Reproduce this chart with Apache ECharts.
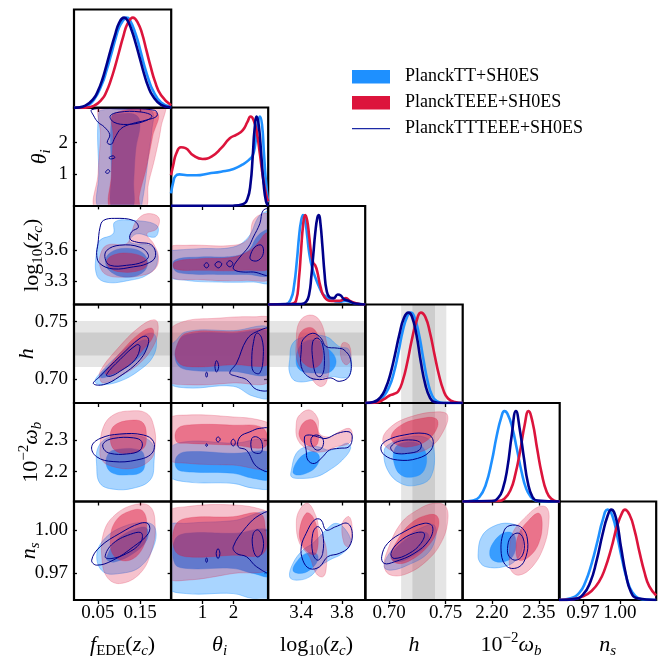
<!DOCTYPE html>
<html><head><meta charset="utf-8">
<script src="https://cdn.jsdelivr.net/npm/echarts@6/dist/echarts.min.js"></script>
<style>html,body{margin:0;padding:0;background:#fff}#c{width:664px;height:666px}</style>
</head><body><div id="c"></div>
<script>
// ---------------- parameters, ranges, ticks ----------------
const PARAMS = ['f', 'th', 'lz', 'h', 'wb', 'ns'];
const X_RANGE = {f:[-0.007,0.224], th:[-0.02,3.12], lz:[3.075,4.03], h:[0.679,0.765], wb:[2.106,2.417], ns:[0.9505,1.0296]};
const Y_RANGE = {th:[-0.02,3.12], lz:[3.075,4.03], h:[0.679,0.765], wb:[2.106,2.417], ns:[0.951,1.020]};
const X_TICKS = {f:[0.05,0.15], th:[1,2], lz:[3.4,3.8], h:[0.70,0.75], wb:[2.20,2.35], ns:[0.97,1.00]};
const X_DEC   = {f:2, th:0, lz:1, h:2, wb:2, ns:2};
const Y_TICKS = {th:[1,2], lz:[3.3,3.6], h:[0.70,0.75], wb:[2.2,2.3], ns:[0.97,1.00]};
const Y_DEC   = {th:0, lz:1, h:2, wb:1, ns:2};
const SERIES_NAMES = ['PlanckTT+SH0ES', 'PlanckTEEE+SH0ES', 'PlanckTTTEEE+SH0ES'];
const H_BAND_2SIG = [0.7105, 0.7505];
const H_BAND_1SIG = [0.7205, 0.7405];

// ---------------- 1D marginals [value, density] ----------------
const TT_1d_f = [[-0.007,0.002],[0.0,0.004],[0.02,0.02],[0.04,0.09],[0.06,0.27],[0.07,0.41],[0.08,0.57],[0.09,0.74],[0.10,0.89],[0.11,0.97],[0.117,1.0],[0.125,0.98],[0.14,0.81],[0.15,0.65],[0.16,0.47],[0.17,0.32],[0.18,0.2],[0.20,0.06],[0.224,0.01]];
const TE_1d_f = [[-0.007,0.0],[0.02,0.004],[0.04,0.024],[0.06,0.1],[0.07,0.18],[0.08,0.3],[0.09,0.45],[0.10,0.62],[0.11,0.79],[0.12,0.93],[0.133,1.0],[0.145,0.94],[0.155,0.82],[0.165,0.64],[0.175,0.46],[0.185,0.3],[0.20,0.14],[0.224,0.03]];
const TTTE_1d_f = [[-0.007,0.002],[0.0,0.004],[0.02,0.026],[0.04,0.106],[0.05,0.19],[0.06,0.31],[0.07,0.47],[0.08,0.64],[0.09,0.8],[0.10,0.94],[0.112,1.0],[0.12,0.97],[0.13,0.86],[0.14,0.71],[0.15,0.54],[0.16,0.37],[0.17,0.23],[0.18,0.135],[0.20,0.035],[0.224,0.005]];

const TT_1d_th = [[-0.02,0.14],[0.05,0.26],[0.12,0.33],[0.25,0.35],[0.5,0.34],[0.8,0.34],[1.2,0.36],[1.6,0.38],[2.0,0.41],[2.3,0.46],[2.5,0.51],[2.62,0.56],[2.7,0.68],[2.78,0.9],[2.85,0.99],[2.92,0.9],[2.98,0.6],[3.04,0.3],[3.12,0.04]];
const TE_1d_th = [[-0.02,0.34],[0.05,0.45],[0.15,0.58],[0.3,0.65],[0.45,0.64],[0.7,0.56],[1.0,0.52],[1.3,0.55],[1.6,0.64],[1.88,0.75],[2.1,0.79],[2.3,0.84],[2.45,0.93],[2.55,0.99],[2.65,0.95],[2.75,0.82],[2.85,0.58],[2.95,0.32],[3.05,0.13],[3.12,0.05]];
const TTTE_1d_th = [[-0.02,0.002],[1.0,0.003],[2.0,0.005],[2.3,0.02],[2.45,0.08],[2.55,0.25],[2.62,0.55],[2.68,0.85],[2.75,0.99],[2.82,0.88],[2.9,0.55],[2.97,0.25],[3.05,0.05],[3.12,0.0]];

const TT_1d_lz = [[3.075,0.0],[3.25,0.005],[3.3,0.06],[3.33,0.2],[3.36,0.5],[3.38,0.75],[3.40,0.92],[3.42,0.99],[3.44,0.93],[3.46,0.76],[3.48,0.57],[3.51,0.4],[3.54,0.3],[3.58,0.19],[3.62,0.11],[3.7,0.05],[3.78,0.03],[3.84,0.04],[3.9,0.02],[4.03,0.0]];
const TE_1d_lz = [[3.075,0.0],[3.3,0.005],[3.35,0.04],[3.38,0.3],[3.40,0.6],[3.42,0.88],[3.44,0.99],[3.46,0.93],[3.48,0.75],[3.50,0.56],[3.52,0.46],[3.54,0.43],[3.56,0.36],[3.59,0.2],[3.63,0.08],[3.7,0.04],[3.78,0.04],[3.84,0.07],[3.88,0.04],[3.95,0.01],[4.03,0.0]];
const TTTE_1d_lz = [[3.075,0.0],[3.4,0.005],[3.45,0.03],[3.48,0.12],[3.5,0.3],[3.52,0.55],[3.54,0.8],[3.56,0.96],[3.575,0.99],[3.59,0.9],[3.61,0.64],[3.63,0.35],[3.65,0.16],[3.68,0.08],[3.72,0.07],[3.76,0.11],[3.79,0.1],[3.82,0.06],[3.87,0.04],[3.93,0.01],[4.03,0.0]];

const TT_1d_h = [[0.679,0.0],[0.688,0.015],[0.694,0.06],[0.700,0.18],[0.704,0.33],[0.708,0.55],[0.712,0.8],[0.716,0.96],[0.719,1.0],[0.722,0.96],[0.726,0.78],[0.730,0.5],[0.734,0.24],[0.738,0.08],[0.742,0.02],[0.748,0.0],[0.765,0.0]];
const TE_1d_h = [[0.679,0.0],[0.690,0.01],[0.695,0.04],[0.700,0.08],[0.704,0.1],[0.708,0.13],[0.712,0.25],[0.716,0.45],[0.720,0.7],[0.724,0.9],[0.728,1.0],[0.732,0.95],[0.736,0.78],[0.740,0.54],[0.744,0.31],[0.748,0.14],[0.752,0.05],[0.758,0.01],[0.765,0.0]];
const TTTE_1d_h = [[0.679,0.0],[0.686,0.01],[0.692,0.06],[0.697,0.17],[0.701,0.32],[0.705,0.53],[0.709,0.76],[0.713,0.94],[0.717,1.0],[0.720,0.96],[0.724,0.76],[0.728,0.45],[0.732,0.2],[0.736,0.06],[0.740,0.01],[0.746,0.0],[0.765,0.0]];

const TT_1d_wb = [[2.106,0.0],[2.14,0.01],[2.16,0.05],[2.18,0.18],[2.2,0.45],[2.215,0.72],[2.23,0.93],[2.24,1.0],[2.25,0.97],[2.265,0.82],[2.28,0.58],[2.295,0.33],[2.31,0.14],[2.325,0.05],[2.34,0.01],[2.36,0.0],[2.417,0.0]];
const TE_1d_wb = [[2.106,0.0],[2.22,0.005],[2.24,0.03],[2.26,0.13],[2.275,0.3],[2.29,0.55],[2.305,0.85],[2.317,1.0],[2.33,0.88],[2.345,0.58],[2.36,0.3],[2.375,0.11],[2.39,0.03],[2.41,0.0],[2.417,0.0]];
const TTTE_1d_wb = [[2.106,0.0],[2.2,0.005],[2.22,0.04],[2.235,0.14],[2.25,0.38],[2.263,0.72],[2.277,1.0],[2.29,0.78],[2.303,0.47],[2.315,0.21],[2.33,0.05],[2.345,0.01],[2.417,0.0]];

const TT_1d_ns = [[0.9505,0.0],[0.96,0.02],[0.967,0.08],[0.972,0.2],[0.977,0.4],[0.982,0.66],[0.986,0.88],[0.99,1.0],[0.994,0.93],[0.998,0.7],[1.002,0.44],[1.006,0.22],[1.01,0.09],[1.015,0.02],[1.02,0.005],[1.0296,0.0]];
const TE_1d_ns = [[0.9505,0.0],[0.962,0.01],[0.97,0.04],[0.977,0.1],[0.983,0.2],[0.988,0.35],[0.993,0.57],[0.998,0.83],[1.002,0.97],[1.004,1.0],[1.008,0.94],[1.012,0.77],[1.016,0.53],[1.02,0.31],[1.024,0.15],[1.0296,0.05]];
const TTTE_1d_ns = [[0.9505,0.0],[0.963,0.01],[0.97,0.06],[0.976,0.2],[0.981,0.43],[0.986,0.73],[0.99,0.93],[0.993,1.0],[0.997,0.9],[1.001,0.58],[1.005,0.28],[1.009,0.09],[1.014,0.02],[1.0296,0.0]];

// ---------------- 2D contours: [level(2=95%,1=68%), [[x,y],...]] ----------------
const TT_th_f = [
 [2, [[0.052,2.95],[0.07,3.06],[0.13,3.07],[0.178,3.0],[0.178,2.4],[0.17,1.6],[0.163,0.8],[0.155,0.1],[0.15,-0.15],[0.055,-0.15],[0.052,1.0]]],
 [1, [[0.083,2.85],[0.1,2.92],[0.14,2.88],[0.15,2.6],[0.14,1.8],[0.135,0.8],[0.13,-0.15],[0.085,-0.15],[0.082,1.0]]]];
const TE_th_f = [
 [2, [[0.058,3.25],[0.205,3.25],[0.2,2.5],[0.185,1.5],[0.17,0.7],[0.158,-0.15],[0.046,-0.15],[0.05,1.0],[0.056,2.2]]],
 [1, [[0.088,2.92],[0.19,2.95],[0.18,2.2],[0.165,1.2],[0.148,0.3],[0.145,-0.15],[0.08,-0.15],[0.082,1.0],[0.086,2.2]]]];
const TTTE_th_f = [
 [2, [[0.035,3.05],[0.1,3.08],[0.185,3.03],[0.19,2.85],[0.165,2.72],[0.13,2.6],[0.105,2.45],[0.09,2.15],[0.082,1.95],[0.072,2.0],[0.078,2.25],[0.065,2.5],[0.05,2.65],[0.04,2.85]]],
 [2, [[0.076,1.52],[0.086,1.58],[0.09,1.52],[0.08,1.48]]],
 [2, [[0.068,1.06],[0.074,1.14],[0.078,1.08],[0.072,1.02]]],
 [1, [[0.079,2.85],[0.1,2.97],[0.15,2.98],[0.178,2.85],[0.16,2.68],[0.12,2.58],[0.088,2.65]]]];

const TT_lz_f = [
 [2, [[0.047,3.60],[0.055,3.70],[0.086,3.76],[0.090,3.875],[0.134,3.89],[0.19,3.84],[0.186,3.73],[0.142,3.76],[0.126,3.68],[0.182,3.63],[0.19,3.47],[0.166,3.36],[0.126,3.31],[0.071,3.29],[0.047,3.36]]],
 [1, [[0.068,3.50],[0.08,3.58],[0.115,3.62],[0.155,3.58],[0.168,3.48],[0.155,3.38],[0.115,3.34],[0.078,3.40]]]];
const TE_lz_f = [
 [2, [[0.055,3.55],[0.071,3.65],[0.118,3.665],[0.13,3.78],[0.142,3.89],[0.166,3.955],[0.194,3.92],[0.19,3.81],[0.166,3.76],[0.182,3.665],[0.194,3.535],[0.186,3.42],[0.158,3.36],[0.11,3.34],[0.071,3.36],[0.055,3.44]]],
 [1, [[0.071,3.50],[0.09,3.56],[0.13,3.57],[0.162,3.52],[0.166,3.45],[0.145,3.40],[0.105,3.39],[0.078,3.43]]]];
const TTTE_lz_f = [
 [2, [[0.063,3.89],[0.09,3.91],[0.134,3.89],[0.146,3.825],[0.13,3.78],[0.126,3.71],[0.142,3.68],[0.178,3.65],[0.186,3.535],[0.166,3.47],[0.134,3.44],[0.086,3.42],[0.055,3.47],[0.047,3.55],[0.05,3.665],[0.055,3.825]]],
 [1, [[0.071,3.60],[0.102,3.65],[0.15,3.63],[0.17,3.55],[0.158,3.49],[0.118,3.455],[0.079,3.455],[0.067,3.52]]]];

const TT_h_f = [
 [2, [[0.043,0.698],[0.055,0.705],[0.094,0.7196],[0.142,0.734],[0.178,0.740],[0.189,0.734],[0.181,0.7196],[0.15,0.708],[0.102,0.698],[0.055,0.695]]],
 [1, [[0.055,0.7037],[0.094,0.7168],[0.142,0.7312],[0.165,0.734],[0.169,0.7283],[0.142,0.7168],[0.094,0.7052],[0.059,0.7009]]]];
const TE_h_f = [
 [2, [[0.055,0.6994],[0.055,0.7066],[0.094,0.7254],[0.15,0.7457],[0.186,0.7515],[0.193,0.7428],[0.181,0.7283],[0.15,0.7139],[0.102,0.7023],[0.063,0.6965]]],
 [1, [[0.067,0.7052],[0.102,0.7226],[0.15,0.74],[0.178,0.7443],[0.181,0.737],[0.157,0.7254],[0.118,0.7109],[0.079,0.7037]]]];
const TTTE_h_f = [
 [2, [[0.039,0.696],[0.055,0.7023],[0.102,0.7196],[0.15,0.7356],[0.166,0.737],[0.17,0.7312],[0.15,0.7168],[0.102,0.7023],[0.063,0.695]]],
 [1, [[0.07,0.7037],[0.102,0.7168],[0.142,0.7298],[0.15,0.7283],[0.138,0.7168],[0.102,0.7066],[0.079,0.7023]]]];

const TT_wb_f = [
 [2, [[0.047,2.216],[0.051,2.279],[0.079,2.31],[0.134,2.316],[0.178,2.29],[0.183,2.226],[0.174,2.174],[0.134,2.148],[0.086,2.145],[0.055,2.163]]],
 [1, [[0.071,2.247],[0.086,2.268],[0.15,2.268],[0.161,2.237],[0.154,2.2],[0.118,2.19],[0.086,2.195],[0.071,2.216]]]];
const TE_wb_f = [
 [2, [[0.055,2.279],[0.063,2.342],[0.086,2.379],[0.126,2.392],[0.166,2.384],[0.183,2.342],[0.186,2.279],[0.174,2.237],[0.134,2.211],[0.086,2.216],[0.059,2.237]]],
 [1, [[0.079,2.31],[0.09,2.347],[0.134,2.363],[0.158,2.353],[0.165,2.31],[0.158,2.274],[0.126,2.258],[0.09,2.268]]]];
const TTTE_wb_f = [
 [2, [[0.035,2.279],[0.055,2.305],[0.102,2.319],[0.158,2.316],[0.182,2.295],[0.178,2.258],[0.142,2.237],[0.086,2.232],[0.047,2.247]]],
 [1, [[0.063,2.29],[0.086,2.305],[0.134,2.307],[0.154,2.295],[0.15,2.268],[0.118,2.256],[0.079,2.258],[0.064,2.271]]]];

const TT_ns_f = [
 [2, [[0.047,0.9813],[0.063,0.993],[0.11,1.0024],[0.166,1.0052],[0.186,1.0012],[0.182,0.9883],[0.15,0.9742],[0.102,0.9696],[0.063,0.9707]]],
 [1, [[0.071,0.9813],[0.094,0.993],[0.142,1.0012],[0.166,1.0012],[0.166,0.993],[0.134,0.9836],[0.09,0.9777],[0.072,0.9789]]]];
const TE_ns_f = [
 [2, [[0.059,0.9813],[0.063,0.9977],[0.086,1.0094],[0.134,1.0176],[0.174,1.0164],[0.186,1.0024],[0.178,0.986],[0.15,0.9696],[0.102,0.9625],[0.071,0.9672]]],
 [1, [[0.079,0.993],[0.094,1.0071],[0.134,1.0141],[0.158,1.0129],[0.166,1.0024],[0.158,0.9883],[0.126,0.9789],[0.09,0.9813]]]];
const TTTE_ns_f = [
 [2, [[0.035,0.9789],[0.055,0.9883],[0.102,0.9977],[0.15,1.0047],[0.17,1.0042],[0.17,0.9977],[0.134,0.9883],[0.086,0.9789],[0.047,0.9754]]],
 [1, [[0.067,0.9813],[0.086,0.9907],[0.134,0.9977],[0.154,0.9977],[0.15,0.9907],[0.118,0.9836],[0.083,0.9801]]]];

const TT_lz_th = [
 [2, [[0.05,3.60],[0.91,3.616],[1.99,3.632],[2.48,3.729],[2.80,3.923],[3.02,3.972],[3.2,3.98],[3.2,3.3],[2.64,3.293],[1.45,3.293],[0.48,3.309],[-0.1,3.357],[-0.1,3.59]]],
 [1, [[0.10,3.503],[0.91,3.535],[1.99,3.542],[2.48,3.60],[2.75,3.729],[3.02,3.794],[3.2,3.8],[3.2,3.374],[2.42,3.367],[1.45,3.367],[0.48,3.374],[0.10,3.406]]]];
const TE_lz_th = [
 [2, [[-0.1,3.616],[0.48,3.649],[1.99,3.649],[2.48,3.713],[2.64,3.891],[2.96,3.956],[3.2,3.93],[3.2,3.341],[2.42,3.309],[0.91,3.316],[-0.1,3.357]]],
 [1, [[0.10,3.487],[0.91,3.519],[1.99,3.535],[2.53,3.60],[2.85,3.697],[3.02,3.762],[3.2,3.76],[3.2,3.438],[2.42,3.406],[0.91,3.406],[0.10,3.422]]]];
const TTTE_lz_th = [
 [2, [[1.99,3.438],[2.21,3.535],[2.48,3.632],[2.64,3.729],[2.85,3.859],[2.96,3.988],[3.2,3.99],[3.2,3.374],[2.64,3.39],[2.31,3.39],[2.05,3.406]]],
 [2, [[1.05,3.455],[1.13,3.48],[1.2,3.455],[1.13,3.43]]],
 [2, [[1.40,3.46],[1.50,3.49],[1.62,3.47],[1.52,3.43]]],
 [2, [[1.78,3.47],[1.88,3.50],[1.98,3.47],[1.88,3.44]]],
 [1, [[2.53,3.535],[2.69,3.632],[2.91,3.649],[2.96,3.568],[2.80,3.503],[2.59,3.503]]]];

const TT_h_th = [
 [2, [[-0.1,0.73],[0.05,0.7313],[0.48,0.7413],[1.99,0.7422],[3.2,0.7428],[3.2,0.6849],[2.64,0.6849],[1.99,0.6936],[0.48,0.6922],[-0.1,0.6979]]],
 [1, [[0.16,0.7283],[0.48,0.7385],[1.99,0.740],[3.2,0.740],[3.2,0.7052],[1.99,0.7066],[0.48,0.7081],[0.16,0.7139]]]];
const TE_h_th = [
 [2, [[-0.1,0.740],[0.37,0.750],[1.45,0.753],[2.64,0.7543],[3.2,0.7515],[3.2,0.6994],[1.99,0.6965],[0.48,0.695],[-0.1,0.6994]]],
 [1, [[0.16,0.7283],[0.48,0.74],[1.99,0.7413],[3.2,0.7413],[3.2,0.7139],[1.99,0.7124],[0.48,0.7109],[0.16,0.7168]]]];
const TTTE_h_th = [
 [2, [[1.88,0.7052],[2.10,0.7139],[2.42,0.7341],[2.75,0.7413],[3.2,0.743],[3.2,0.6922],[2.75,0.6907],[2.42,0.6994],[2.10,0.7023]]],
 [2, [[1.40,0.7109],[1.45,0.716],[1.52,0.7109],[1.45,0.706]]],
 [2, [[1.10,0.7037],[1.13,0.706],[1.16,0.7037],[1.13,0.7015]]],
 [1, [[2.64,0.7313],[2.75,0.74],[2.91,0.7356],[2.96,0.7196],[2.85,0.7052],[2.64,0.7066],[2.59,0.7168]]]];

const TT_wb_th = [
 [2, [[-0.1,2.268],[0.48,2.295],[1.99,2.29],[3.2,2.295],[3.2,2.153],[2.64,2.148],[1.99,2.163],[0.48,2.168],[-0.1,2.19]]],
 [1, [[0.16,2.247],[0.48,2.263],[1.99,2.258],[3.2,2.258],[3.2,2.179],[2.64,2.179],[1.99,2.195],[0.48,2.2],[0.16,2.211]]]];
const TE_wb_th = [
 [2, [[-0.1,2.363],[0.48,2.379],[1.99,2.373],[2.85,2.363],[3.2,2.342],[3.2,2.216],[1.99,2.221],[0.48,2.227],[-0.1,2.242]]],
 [1, [[0.16,2.332],[0.48,2.347],[1.99,2.347],[2.96,2.337],[3.02,2.279],[1.99,2.284],[0.48,2.29],[0.16,2.295]]]];
const TTTE_wb_th = [
 [2, [[2.21,2.31],[2.53,2.326],[2.85,2.337],[3.2,2.332],[3.2,2.205],[2.75,2.216],[2.42,2.268],[2.15,2.279]]],
 [2, [[1.10,2.284],[1.13,2.288],[1.16,2.284],[1.13,2.28]]],
 [2, [[1.44,2.302],[1.5,2.31],[1.57,2.302],[1.5,2.294]]],
 [2, [[1.92,2.292],[1.99,2.303],[2.06,2.292],[1.99,2.281]]],
 [1, [[2.59,2.305],[2.75,2.31],[2.91,2.295],[2.91,2.263],[2.75,2.258],[2.59,2.268]]]];

const TT_ns_th = [
 [2, [[-0.1,1.0024],[0.48,1.0047],[1.99,1.0066],[3.2,1.0106],[3.2,0.9531],[2.64,0.952],[1.99,0.9555],[0.48,0.9555],[-0.1,0.9602]]],
 [1, [[0.10,0.993],[0.48,0.9977],[1.99,0.9977],[3.2,0.9988],[3.2,0.9684],[2.64,0.9696],[1.99,0.9731],[0.48,0.9731],[0.10,0.9766]]]];
const TE_ns_th = [
 [2, [[-0.1,1.0118],[0.48,1.0164],[1.99,1.0176],[2.96,1.0141],[3.2,1.0094],[3.2,0.9742],[1.99,0.9696],[0.48,0.9649],[-0.1,0.9672]]],
 [1, [[0.10,1.0024],[0.48,1.0083],[1.99,1.0094],[2.85,1.0118],[3.02,1.0024],[2.96,0.9836],[1.99,0.9824],[0.48,0.9813],[0.10,0.986]]]];
const TTTE_ns_th = [
 [2, [[1.99,0.9883],[2.42,1.0024],[2.85,1.0106],[3.2,1.012],[3.2,0.9707],[2.75,0.9742],[2.42,0.9813],[2.10,0.9836]]],
 [2, [[1.44,0.9836],[1.5,0.987],[1.56,0.9836],[1.5,0.980]]],
 [2, [[1.10,0.9789],[1.13,0.9805],[1.16,0.9789],[1.13,0.9773]]],
 [1, [[2.64,0.9977],[2.80,1.0],[2.96,0.993],[2.91,0.9836],[2.75,0.9813],[2.62,0.9883]]]];

const TT_h_lz = [
 [2, [[3.288,0.7168],[3.32,0.7313],[3.45,0.737],[3.645,0.737],[3.774,0.7283],[3.871,0.7254],[3.887,0.7052],[3.839,0.7009],[3.677,0.7023],[3.548,0.6994],[3.353,0.6979],[3.288,0.7052]]],
 [1, [[3.353,0.7196],[3.417,0.7313],[3.548,0.7341],[3.645,0.7283],[3.742,0.7168],[3.693,0.7066],[3.548,0.7052],[3.385,0.7081]]]];
const TE_h_lz = [
 [2, [[3.353,0.7341],[3.385,0.75],[3.483,0.7558],[3.58,0.7515],[3.645,0.7341],[3.677,0.7139],[3.645,0.6965],[3.58,0.6936],[3.483,0.7023],[3.369,0.7139]]],
 [2, [[3.806,0.7313],[3.871,0.7298],[3.887,0.7168],[3.839,0.7124],[3.79,0.7196]]],
 [1, [[3.369,0.7341],[3.417,0.7428],[3.515,0.7443],[3.58,0.7341],[3.612,0.7196],[3.564,0.7109],[3.466,0.7109],[3.385,0.7196]]]];
const TTTE_h_lz = [
 [2, [[3.417,0.7341],[3.515,0.7399],[3.596,0.7356],[3.645,0.7283],[3.757,0.7269],[3.822,0.7254],[3.887,0.7168],[3.871,0.7023],[3.774,0.6979],[3.693,0.7009],[3.58,0.6994],[3.466,0.7023],[3.402,0.7109],[3.402,0.7254]]],
 [1, [[3.515,0.7327],[3.564,0.7356],[3.612,0.7298],[3.628,0.7109],[3.596,0.7023],[3.548,0.7037],[3.515,0.7168]]]];

const TT_wb_lz = [
 [2, [[3.305,2.205],[3.353,2.258],[3.45,2.279],[3.564,2.279],[3.677,2.268],[3.774,2.279],[3.855,2.29],[3.887,2.274],[3.806,2.237],[3.677,2.205],[3.548,2.184],[3.385,2.179],[3.305,2.184]]],
 [1, [[3.32,2.2],[3.369,2.237],[3.45,2.258],[3.531,2.263],[3.58,2.247],[3.548,2.216],[3.45,2.195],[3.353,2.19]]]];
const TE_wb_lz = [
 [2, [[3.353,2.353],[3.385,2.379],[3.483,2.395],[3.564,2.368],[3.58,2.321],[3.677,2.31],[3.774,2.326],[3.871,2.337],[3.903,2.321],[3.871,2.29],[3.742,2.279],[3.612,2.263],[3.483,2.268],[3.369,2.3]]],
 [1, [[3.385,2.332],[3.434,2.358],[3.515,2.363],[3.564,2.332],[3.564,2.29],[3.515,2.279],[3.434,2.29],[3.385,2.31]]]];
const TTTE_wb_lz = [
 [2, [[3.434,2.31],[3.483,2.316],[3.564,2.31],[3.645,2.305],[3.757,2.321],[3.871,2.326],[3.903,2.31],[3.871,2.279],[3.774,2.274],[3.677,2.268],[3.612,2.247],[3.531,2.226],[3.466,2.237],[3.45,2.268]]],
 [1, [[3.499,2.305],[3.548,2.316],[3.612,2.305],[3.612,2.279],[3.564,2.268],[3.515,2.279]]]];

const TT_ns_lz = [
 [2, [[3.288,0.9672],[3.32,0.9766],[3.417,0.986],[3.515,0.9907],[3.645,1.0],[3.742,1.0047],[3.839,1.0],[3.887,0.9907],[3.806,0.9836],[3.677,0.9789],[3.58,0.9742],[3.483,0.9672],[3.353,0.9649]]],
 [1, [[3.32,0.9719],[3.369,0.9789],[3.45,0.9836],[3.548,0.9836],[3.564,0.9789],[3.483,0.9719],[3.385,0.9696]]]];
const TE_ns_lz = [
 [2, [[3.353,1.0047],[3.385,1.0141],[3.466,1.0188],[3.548,1.0094],[3.58,1.0],[3.645,0.9883],[3.645,0.9719],[3.612,0.9672],[3.548,0.9696],[3.483,0.9813],[3.385,0.9907]]],
 [2, [[3.806,1.0047],[3.871,1.0094],[3.903,1.0],[3.871,0.9883],[3.822,0.9907]]],
 [1, [[3.385,1.0],[3.45,1.0118],[3.515,1.0094],[3.564,0.9977],[3.548,0.9836],[3.483,0.9836],[3.402,0.9907]]]];
const TTTE_ns_lz = [
 [2, [[3.402,0.9883],[3.45,0.9977],[3.531,1.0071],[3.596,1.0071],[3.645,1.0],[3.742,1.0024],[3.855,1.0047],[3.903,0.9977],[3.871,0.9883],[3.774,0.9836],[3.661,0.9813],[3.58,0.9742],[3.483,0.973],[3.417,0.9789]]],
 [1, [[3.515,0.9977],[3.564,1.0024],[3.612,0.9977],[3.612,0.9836],[3.564,0.9789],[3.515,0.9836]]]];

const TT_wb_h = [
 [2, [[0.6956,2.268],[0.7015,2.29],[0.7162,2.31],[0.7339,2.305],[0.7397,2.268],[0.7368,2.184],[0.725,2.158],[0.7103,2.163],[0.6986,2.205]]],
 [1, [[0.7044,2.268],[0.7103,2.29],[0.725,2.29],[0.7324,2.258],[0.7309,2.205],[0.722,2.184],[0.7103,2.19],[0.7044,2.226]]]];
const TE_wb_h = [
 [2, [[0.6942,2.3],[0.7015,2.342],[0.7191,2.374],[0.7427,2.389],[0.7515,2.379],[0.7485,2.332],[0.7368,2.279],[0.7191,2.258],[0.7015,2.268]]],
 [1, [[0.7015,2.31],[0.7103,2.347],[0.728,2.368],[0.7412,2.368],[0.7427,2.342],[0.7339,2.3],[0.7191,2.279],[0.7074,2.284]]]];
const TTTE_wb_h = [
 [2, [[0.6927,2.279],[0.6986,2.3],[0.7132,2.316],[0.7309,2.321],[0.7383,2.305],[0.7368,2.268],[0.725,2.242],[0.7074,2.237],[0.6956,2.253]]],
 [1, [[0.7015,2.279],[0.7074,2.295],[0.7206,2.3],[0.728,2.29],[0.7265,2.268],[0.7162,2.258],[0.7059,2.258],[0.7021,2.268]]]];

const TT_ns_h = [
 [2, [[0.6956,0.9742],[0.70,0.9836],[0.7132,0.9942],[0.7309,1.0024],[0.7397,1.0035],[0.7412,0.9953],[0.7339,0.9836],[0.7162,0.9754],[0.7015,0.9719]]],
 [1, [[0.7015,0.9813],[0.7103,0.9907],[0.725,0.9977],[0.7339,0.9977],[0.7339,0.9907],[0.722,0.9824],[0.7074,0.9777]]]];
const TE_ns_h = [
 [2, [[0.6956,0.9742],[0.6986,0.986],[0.7103,1.0047],[0.725,1.0141],[0.7397,1.0188],[0.75,1.0164],[0.7515,1.0047],[0.7456,0.9907],[0.7339,0.9789],[0.7162,0.9696],[0.7015,0.9684]]],
 [1, [[0.7015,0.9813],[0.7074,0.993],[0.7191,1.0047],[0.7339,1.0106],[0.7427,1.0094],[0.7427,1.0],[0.7339,0.9883],[0.7191,0.9789],[0.7074,0.9766]]]];
const TTTE_ns_h = [
 [2, [[0.6933,0.9813],[0.6986,0.9907],[0.7132,0.9988],[0.7309,1.0047],[0.7383,1.0024],[0.7353,0.993],[0.722,0.9836],[0.7044,0.9777],[0.6956,0.9766]]],
 [1, [[0.7015,0.9836],[0.7088,0.9918],[0.722,0.9977],[0.7309,0.9977],[0.728,0.9907],[0.7176,0.9836],[0.7044,0.9801]]]];

const TT_ns_wb = [
 [2, [[2.156,0.9836],[2.167,0.9953],[2.203,1.0024],[2.256,1.0047],[2.293,1.0],[2.298,0.9883],[2.277,0.9789],[2.235,0.9742],[2.182,0.9742],[2.161,0.9777]]],
 [1, [[2.193,0.9836],[2.203,0.9907],[2.235,0.9977],[2.266,0.9977],[2.277,0.9907],[2.266,0.9813],[2.235,0.9777],[2.203,0.9789]]]];
const TE_ns_wb = [
 [2, [[2.256,0.9813],[2.266,0.9977],[2.309,1.0094],[2.35,1.0164],[2.377,1.0153],[2.382,1.0047],[2.366,0.9883],[2.329,0.9742],[2.287,0.9684],[2.261,0.9719]]],
 [1, [[2.277,0.986],[2.287,0.9977],[2.319,1.0071],[2.35,1.0118],[2.361,1.0047],[2.35,0.9907],[2.319,0.9813],[2.287,0.9789]]]];
const TTTE_ns_wb = [
 [2, [[2.23,0.9836],[2.24,1.0],[2.266,1.0035],[2.298,1.0012],[2.314,0.993],[2.309,0.9813],[2.287,0.9742],[2.25,0.9742]]],
 [1, [[2.25,0.9871],[2.261,0.9953],[2.287,0.9977],[2.303,0.9918],[2.298,0.9824],[2.277,0.9789],[2.256,0.9813]]]];

// ---------------- assembly ----------------
const ONE_D = {
  f:[TT_1d_f,TE_1d_f,TTTE_1d_f], th:[TT_1d_th,TE_1d_th,TTTE_1d_th], lz:[TT_1d_lz,TE_1d_lz,TTTE_1d_lz],
  h:[TT_1d_h,TE_1d_h,TTTE_1d_h], wb:[TT_1d_wb,TE_1d_wb,TTTE_1d_wb], ns:[TT_1d_ns,TE_1d_ns,TTTE_1d_ns]};
const TWO_D = {
  'th_f':[TT_th_f,TE_th_f,TTTE_th_f],
  'lz_f':[TT_lz_f,TE_lz_f,TTTE_lz_f], 'lz_th':[TT_lz_th,TE_lz_th,TTTE_lz_th],
  'h_f':[TT_h_f,TE_h_f,TTTE_h_f], 'h_th':[TT_h_th,TE_h_th,TTTE_h_th], 'h_lz':[TT_h_lz,TE_h_lz,TTTE_h_lz],
  'wb_f':[TT_wb_f,TE_wb_f,TTTE_wb_f], 'wb_th':[TT_wb_th,TE_wb_th,TTTE_wb_th], 'wb_lz':[TT_wb_lz,TE_wb_lz,TTTE_wb_lz], 'wb_h':[TT_wb_h,TE_wb_h,TTTE_wb_h],
  'ns_f':[TT_ns_f,TE_ns_f,TTTE_ns_f], 'ns_th':[TT_ns_th,TE_ns_th,TTTE_ns_th], 'ns_lz':[TT_ns_lz,TE_ns_lz,TTTE_ns_lz], 'ns_h':[TT_ns_h,TE_ns_h,TTTE_ns_h], 'ns_wb':[TT_ns_wb,TE_ns_wb,TTTE_ns_wb]};

const SERIF = '"Liberation Serif","DejaVu Serif",serif';
const LINE_COL = ['#1E90FF', '#DC143C', '#00008B'];
const FILL = [{2:'rgba(30,144,255,0.38)', 1:'rgba(30,144,255,0.82)'}, {2:'rgba(220,20,60,0.26)', 1:'rgba(220,20,60,0.45)'}];
const EDGE = ['rgba(30,144,255,0.55)', 'rgba(220,20,60,0.3)'];

const COL_L = [74, 171, 268, 365.5, 462.5, 559];
const ROW_T = [9.5, 107.5, 206, 304.5, 403, 501.5];
const PW = 97.2, PH = 98.5;

const RICH = {
  r:{fontFamily:SERIF, fontSize:22, lineHeight:28, color:'#000'},
  i:{fontFamily:SERIF, fontSize:22, fontStyle:'italic', lineHeight:28, color:'#000'},
  s:{fontFamily:SERIF, fontSize:15, lineHeight:15, verticalAlign:'bottom', color:'#000'},
  si:{fontFamily:SERIF, fontSize:15, fontStyle:'italic', lineHeight:15, verticalAlign:'bottom', color:'#000'},
  p:{fontFamily:SERIF, fontSize:15, lineHeight:15, verticalAlign:'top', color:'#000'}
};
const NAMES = {
  f:'{i|f}{s|EDE}{r|(}{i|z}{si|c}{r|)}',
  th:'{i|θ}{si|i}',
  lz:'{r|log}{s|10}{r|(}{i|z}{si|c}{r|)}',
  h:'{i|h}',
  wb:'{r|10}{p|−2}{i|ω}{si|b}',
  ns:'{i|n}{si|s}'
};
const Y_NAME_GAP = {th:20, lz:28, h:33, wb:29, ns:31};

const grids = [], xAxes = [], yAxes = [], series = [];

function polyRender(polys, k){
  return function(params, api){
    const item = polys[params.dataIndex];
    const lvl = item[0];
    const pts = item[1].map(p => api.coord(p));
    const cs = params.coordSys;
    const style = (k === 2)
      ? {fill:'none', stroke:LINE_COL[2], lineWidth:1}
      : {fill:FILL[k][lvl], stroke:EDGE[k], lineWidth:0.7};
    return {type:'group',
      clipPath:{type:'rect', shape:{x:cs.x+1.2, y:cs.y+1.2, width:cs.width-2.4, height:cs.height-2.4}},
      children:[{type:'polygon', shape:{points:pts, smooth:0.4}, style:style}]};
  };
}
function bandRender(bands, vertical){
  return function(params, api){
    const b = bands[params.dataIndex];
    const cs = params.coordSys;
    let shape;
    if (vertical){
      const x0 = api.coord([b[0], 0])[0], x1 = api.coord([b[1], 0])[0];
      shape = {x:x0, y:cs.y, width:x1-x0, height:cs.height};
    } else {
      const y0 = api.coord([0, b[0]])[1], y1 = api.coord([0, b[1]])[1];
      shape = {x:cs.x, y:y1, width:cs.width, height:y0-y1};
    }
    return {type:'rect', shape:shape, style:{fill:'rgba(0,0,0,0.1)'}};
  };
}

let g = 0;
for (let r = 0; r < 6; r++){
  for (let c = 0; c <= r; c++){
    const px = PARAMS[c], py = PARAMS[r];
    grids.push({left:COL_L[c], top:ROW_T[r], width:PW, height:PH, show:true, borderColor:'#000', borderWidth:2.2, backgroundColor:'rgba(0,0,0,0)', containLabel:false});
    const xa = {type:'value', gridIndex:g, min:X_RANGE[px][0], max:X_RANGE[px][1],
      splitLine:{show:false}, axisLine:{show:false},
      axisTick:{show:true, customValues:X_TICKS[px], length:4, lineStyle:{color:'#000', width:1.3}},
      axisLabel:{show:r===5, customValues:X_TICKS[px], margin:4, fontFamily:SERIF, fontSize:19, color:'#000',
        formatter:(v)=>Number(v).toFixed(X_DEC[px])}};
    if (r === 5){
      Object.assign(xa, {name:NAMES[px], nameLocation:'middle', nameGap:31, nameMoveOverlap:false, nameTextStyle:{rich:RICH}});
    }
    xAxes.push(xa);
    if (r === c){
      yAxes.push({type:'value', gridIndex:g, min:0, max:1.09, show:false});
    } else {
      const ya = {type:'value', gridIndex:g, min:Y_RANGE[py][0], max:Y_RANGE[py][1],
        splitLine:{show:false}, axisLine:{show:false},
        axisTick:{show:true, customValues:Y_TICKS[py], length:4, lineStyle:{color:'#000', width:1.3}},
        axisLabel:{show:c===0, customValues:Y_TICKS[py], margin:6, fontFamily:SERIF, fontSize:19, color:'#000',
          formatter:(v)=>Number(v).toFixed(Y_DEC[py])}};
      if (c === 0){
        Object.assign(ya, {name:NAMES[py], nameLocation:'middle', nameRotate:90, nameGap:Y_NAME_GAP[py], nameMoveOverlap:false, nameTextStyle:{rich:RICH}});
      }
      yAxes.push(ya);
    }

    // SH0ES prior bands on h
    const bands = [H_BAND_2SIG, H_BAND_1SIG];
    if (px === 'h' || (py === 'h' && r !== c)){
      const vertical = (px === 'h');
      series.push({type:'custom', xAxisIndex:g, yAxisIndex:g, silent:true, z:1,
        data:bands.map(b => vertical ? [b[0], Y_RANGE.h[0]] : [X_RANGE[px][0], b[0]]),
        renderItem:bandRender(bands, vertical)});
    }

    if (r === c){
      ONE_D[px].forEach((d, k) => {
        series.push({type:'line', name:SERIES_NAMES[k], xAxisIndex:g, yAxisIndex:g, data:d, smooth:0.5,
          showSymbol:false, silent:true, z:3, lineStyle:{color:LINE_COL[k], width:2.6}});
      });
    } else {
      const sets = TWO_D[py + '_' + px];
      sets.forEach((polys, k) => {
        series.push({type:'custom', name:SERIES_NAMES[k], xAxisIndex:g, yAxisIndex:g, silent:true, z:2,
          data:polys.map(p => p[1][0]), renderItem:polyRender(polys, k)});
      });
    }
    g++;
  }
}

const LEG_FONT = '18px "Liberation Serif"';
const graphic = [
  {type:'rect', left:352, top:70, shape:{width:38, height:13.5}, style:{fill:LINE_COL[0]}},
  {type:'rect', left:352, top:96, shape:{width:38, height:13.5}, style:{fill:LINE_COL[1]}},
  {type:'line', shape:{x1:352, y1:128.7, x2:390, y2:128.7}, style:{stroke:'#1c2aa6', lineWidth:1.3}},
  {type:'text', left:405, top:67, style:{text:SERIES_NAMES[0], font:LEG_FONT, fill:'#000'}},
  {type:'text', left:405, top:93, style:{text:SERIES_NAMES[1], font:LEG_FONT, fill:'#000'}},
  {type:'text', left:405, top:119, style:{text:SERIES_NAMES[2], font:LEG_FONT, fill:'#000'}}
];

const chart = echarts.init(document.getElementById('c'), null, {renderer:'canvas'});
chart.setOption({animation:false, backgroundColor:'#fff', grid:grids, xAxis:xAxes, yAxis:yAxes, series:series, graphic:graphic});
</script></body></html>
